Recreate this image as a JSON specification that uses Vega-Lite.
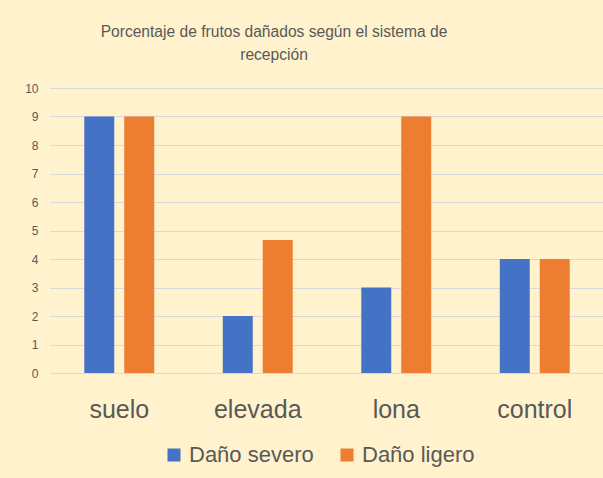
{
  "$schema": "https://vega.github.io/schema/vega-lite/v6.json",
  "autosize": {"type": "none"},
  "width": 554,
  "height": 285,
  "padding": {"left": 50, "top": 88, "right": 0, "bottom": 105},
  "background": "#FFF2CC",
  "title": {
    "text": ["Porcentaje de frutos dañados según el sistema de", "recepción"],
    "anchor": "middle",
    "dx": -53,
    "offset": 18,
    "font": "Liberation Sans",
    "fontSize": 15.6,
    "fontWeight": "normal",
    "color": "#595959",
    "lineHeight": 23
  },
  "data": {
    "values": [
      {"sistema": "suelo", "serie": "Daño severo", "valor": 9},
      {"sistema": "suelo", "serie": "Daño ligero", "valor": 9},
      {"sistema": "elevada", "serie": "Daño severo", "valor": 2},
      {"sistema": "elevada", "serie": "Daño ligero", "valor": 4.67},
      {"sistema": "lona", "serie": "Daño severo", "valor": 3},
      {"sistema": "lona", "serie": "Daño ligero", "valor": 9},
      {"sistema": "control", "serie": "Daño severo", "valor": 4},
      {"sistema": "control", "serie": "Daño ligero", "valor": 4}
    ]
  },
  "mark": {"type": "bar"},
  "encoding": {
    "x": {
      "field": "sistema",
      "type": "nominal",
      "sort": ["suelo", "elevada", "lona", "control"],
      "scale": {"paddingInner": 0.495, "paddingOuter": 0.2475},
      "axis": {
        "title": null,
        "labelAngle": 0,
        "labelFont": "Liberation Sans",
        "labelFontSize": 25,
        "labelColor": "#595959",
        "labelPadding": 24,
        "domain": false,
        "ticks": false
      }
    },
    "xOffset": {
      "field": "serie",
      "type": "nominal",
      "sort": ["Daño severo", "Daño ligero"],
      "scale": {"paddingInner": 0.25, "paddingOuter": 0}
    },
    "y": {
      "field": "valor",
      "type": "quantitative",
      "scale": {"domain": [0, 10]},
      "axis": {
        "title": null,
        "values": [0, 1, 2, 3, 4, 5, 6, 7, 8, 9, 10],
        "labelOverlap": false,
        "labelFont": "Liberation Sans",
        "labelFontSize": 12,
        "labelColor": "#595959",
        "labelPadding": 12,
        "domain": false,
        "ticks": false,
        "grid": true,
        "gridColor": "#D9D9D9",
        "gridWidth": 1
      }
    },
    "color": {
      "field": "serie",
      "type": "nominal",
      "sort": ["Daño severo", "Daño ligero"],
      "scale": {"domain": ["Daño severo", "Daño ligero"], "range": ["#4472C4", "#ED7D31"]},
      "legend": {
        "title": null,
        "orient": "none",
        "direction": "horizontal",
        "legendX": 113,
        "legendY": 356,
        "symbolType": "square",
        "symbolSize": 169,
        "symbolStrokeWidth": 0,
        "labelFont": "Liberation Sans",
        "labelFontSize": 22,
        "labelColor": "#595959",
        "labelOffset": 4,
        "columnPadding": 22,
        "padding": 0
      }
    }
  },
  "config": {"view": {"stroke": null}}
}
